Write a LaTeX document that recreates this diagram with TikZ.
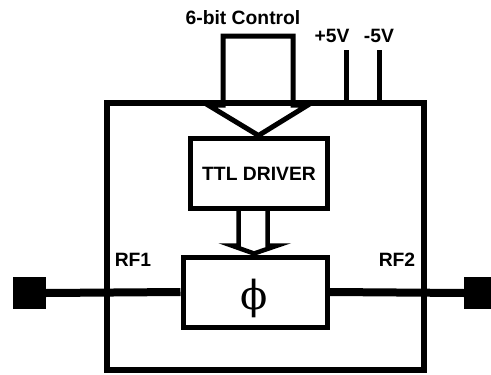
\documentclass[tikz,border=0pt]{standalone}
\usepackage{fontspec}
\setmainfont{Liberation Sans}
\newfontfamily\phifont{DejaVu Serif}
\usetikzlibrary{calc}
\begin{document}
\begin{tikzpicture}[x=1pt,y=-1pt,
  lbl/.style={font=\fontsize{19.3}{22}\selectfont\bfseries, inner sep=0pt},
  outerbox/.style={draw, line width=6pt, inner sep=0pt, rectangle},
  blockbox/.style={draw, line width=5pt, inner sep=0pt, rectangle, fill=white},
  term/.style={fill=black, inner sep=0pt, rectangle},
  rfline/.style={line width=8pt},
  pin/.style={line width=5pt},
  arrowshape/.style={line width=5pt, line join=miter}]
\useasboundingbox (0,0) rectangle (491,375);
% outer box
\node[outerbox, minimum width=317pt, minimum height=267pt] (outer) at (265.5,236.5) {};
% blocks
\node[blockbox, minimum width=137pt, minimum height=70pt] (ttl) at (258.5,173) {};
\node[lbl] (ttltext) at (259,174) {TTL DRIVER};
\node[blockbox, minimum width=144pt, minimum height=70pt] (phi) at (255,292) {};
\node[inner sep=0pt, font=\phifont\fontsize{40}{42}\selectfont] (phitext) at (254,298) {ϕ};
% terminals
\node[term, minimum width=33pt, minimum height=32pt] (t1) at (29.5,293) {};
\node[term, minimum width=33pt, minimum height=32pt] (t2) at (480.5,293) {};
% RF lines
\draw[rfline] (t1.east) -- (phi.west);
\draw[rfline] (phi.east) -- (t2.west);
\node[lbl] (rf1) at (133,260) {RF1};
\node[lbl] (rf2) at (397,260) {RF2};
% power pins
\coordinate (p5) at (346,50);
\coordinate (m5) at (379,50);
\draw[pin] (p5) -- (p5 |- outer.north);
\draw[pin] (m5) -- (m5 |- outer.north);
\node[lbl] (p5t) at (332,36) {+5V};
\node[lbl] (m5t) at (379,36) {-5V};
% 6-bit control arrow
\node[lbl] (ctl) at (243,18) {6-bit Control};
\draw[arrowshape] (208,105) -- (223,105) -- (223,36) -- (293,36) -- (293,105) -- (308,105) -- (ttl.north) -- cycle;
% small arrow ttl -> phi
\draw[arrowshape, line width=4.5pt] ($(ttl.south)+(-20,0)$) -- ($(ttl.south)+(-20,35)$) -- ($(ttl.south)+(-27,35)$) -- ($(phi.north)+(-1,-1)$) -- ($(ttl.south)+(19,35)$) -- ($(ttl.south)+(9,35)$) -- ($(ttl.south)+(9,0)$);
\end{tikzpicture}
\end{document}
